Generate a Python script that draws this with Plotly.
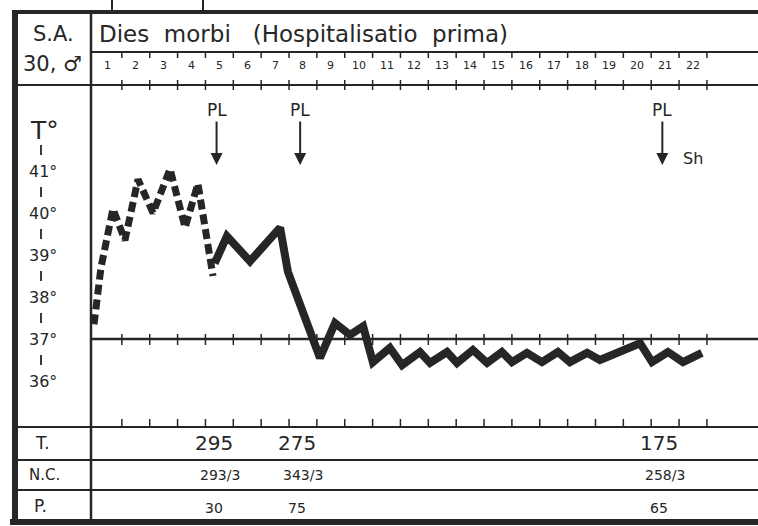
import plotly.graph_objects as go

# ---------------- data ----------------
days = list(range(1, 23))                       # Dies morbi
temp_label_vals = [41, 40, 39, 38, 37, 36]      # y tick labels (°C)
temp_labels = ["41°", "40°", "39°", "38°", "37°", "36°"]

# temperature curve before hospitalisation (dashed), x in days
fever_x = [0.0, 0.25, 0.68, 1.11, 1.58, 2.12, 2.73, 3.27, 3.73, 4.27]
fever_y = [37.35, 38.7, 40.1, 39.35, 40.8, 40.0, 41.05, 39.65, 40.7, 38.5]

# temperature curve in hospital (solid)
curve_x = [4.33, 4.77, 5.60, 6.68, 6.96, 8.11, 8.65, 9.19, 9.66, 10.01,
           10.62, 11.06, 11.70, 12.06, 12.67, 13.03, 13.60, 14.11, 14.64, 15.0,
           15.54, 16.08, 16.65, 17.08, 17.70, 18.16, 19.6, 20.03, 20.6, 21.14, 21.82]
curve_y = [38.8, 39.45, 38.85, 39.65, 38.6, 36.55, 37.38, 37.1, 37.3, 36.45,
           36.79, 36.38, 36.69, 36.43, 36.69, 36.43, 36.74, 36.43, 36.69, 36.45,
           36.67, 36.45, 36.69, 36.45, 36.67, 36.5, 36.9, 36.45, 36.69, 36.45, 36.67]

# lumbar punctures (PL) and CSF findings
puncture_day = [4.4, 7.4, 20.4]
row_T = ["295", "275", "175"]
row_NC = ["293/3", "343/3", "258/3"]
row_P = ["30", "75", "65"]

# ---------------- geometry helpers ----------------
W, H = 758, 526
PX0, PXD = 94.0, 27.86      # pixel of day 0, pixels per day
PY37, PYD = 339.0, 42.0     # pixel of 37°, pixels per degree
INK = "#262626"
FONT = "DejaVu Sans"


def xd(px):
    return (px - PX0) / PXD


def yd(py):
    return 37 + (PY37 - py) / PYD


def xp(px):
    return px / W


def yp(py):
    return 1 - py / H


fig = go.Figure()

fig.add_trace(go.Scatter(x=fever_x, y=fever_y, mode="lines",
                         line=dict(color=INK, width=7, dash="10px,5px"),
                         hoverinfo="skip"))
fig.add_trace(go.Scatter(x=curve_x, y=curve_y, mode="lines",
                         line=dict(color=INK, width=8),
                         hoverinfo="skip"))

shapes = []


def hline(py, x0, x1, w=2):
    shapes.append(dict(type="line", xref="paper", yref="paper",
                       x0=xp(x0), x1=xp(x1), y0=yp(py), y1=yp(py),
                       line=dict(color=INK, width=w)))


def vline(px, y0, y1, w=2):
    shapes.append(dict(type="line", xref="paper", yref="paper",
                       x0=xp(px), x1=xp(px), y0=yp(y0), y1=yp(y1),
                       line=dict(color=INK, width=w)))


# frame
hline(12, 15, W, 4)
hline(52, 91, W, 2)
hline(85, 15, W, 2)
hline(339, 91, W, 2.5)
hline(427, 15, W, 2)
hline(460, 15, W, 2)
hline(490, 15, W, 2)
hline(522, 10, W, 6)
vline(15, 10, 525, 6)
vline(91, 12, 522, 2.5)
# stubs from the chart above
vline(112, 0, 12, 2)
vline(203, 0, 12, 2)

# day ticks
for k in days:
    for (a, b) in [(52, 58), (80, 90), (334, 345), (419, 427)]:
        shapes.append(dict(type="line", xref="x", yref="paper",
                           x0=k, x1=k, y0=yp(a), y1=yp(b),
                           line=dict(color=INK, width=1.5)))

# little separators between the temperature labels
for v in temp_label_vals:
    shapes.append(dict(type="line", xref="paper", yref="y",
                       x0=xp(41), x1=xp(41), y0=v + 0.38, y1=v + 0.62,
                       line=dict(color=INK, width=1.8)))

ann = []


def text(x, y, s, size, xref="paper", yref="paper", xanchor="center", **kw):
    ann.append(dict(x=x, y=y, xref=xref, yref=yref, text=s, showarrow=False,
                    xanchor=xanchor, yanchor="middle",
                    font=dict(family=FONT, size=size, color=INK), **kw))


text(xp(53), yp(34), "S.A.", 21)
text(xp(52), yp(64), "30, ♂", 21)
text(xp(97), yp(34), "Dies  morbi   (Hospitalisatio  prima)", 23, xanchor="left")

for d in days:
    text(d - 0.5, yp(65), str(d), 11, xref="x")

text(xp(44), yp(130), "T°", 25)
for v, lab in zip(temp_label_vals, temp_labels):
    text(xp(43), v, lab, 16, yref="y")

text(xp(42), yp(443), "T.", 17)
text(xp(44), yp(475), "N.C.", 15)
text(xp(40), yp(506), "P.", 17)

for d, t, nc, p in zip(puncture_day, row_T, row_NC, row_P):
    ann.append(dict(x=d, y=yd(165), xref="x", yref="y", text="PL",
                    showarrow=True, ax=0, ay=-55, arrowhead=2, arrowsize=1.2,
                    arrowwidth=2, arrowcolor=INK,
                    font=dict(family=FONT, size=17, color=INK)))
    text(d, yp(443), t, 20, xref="x", xshift=-3)
    text(d, yp(475), nc, 14, xref="x", xshift=3)
    text(d, yp(508), p, 14, xref="x", xshift=-3)

text(xd(693), yd(158), "Sh", 16, xref="x", yref="y")

fig.update_layout(
    width=W, height=H, margin=dict(l=0, r=0, t=0, b=0),
    paper_bgcolor="white", plot_bgcolor="white", showlegend=False,
    xaxis=dict(range=[xd(0), xd(W)], visible=False, fixedrange=True),
    yaxis=dict(range=[yd(H), yd(0)], visible=False, fixedrange=True),
    shapes=shapes, annotations=ann,
)

fig.write_html("out.html", config={"displayModeBar": False},
               post_script="document.body.style.margin='0';"
                           "document.body.style.overflow='hidden';")
